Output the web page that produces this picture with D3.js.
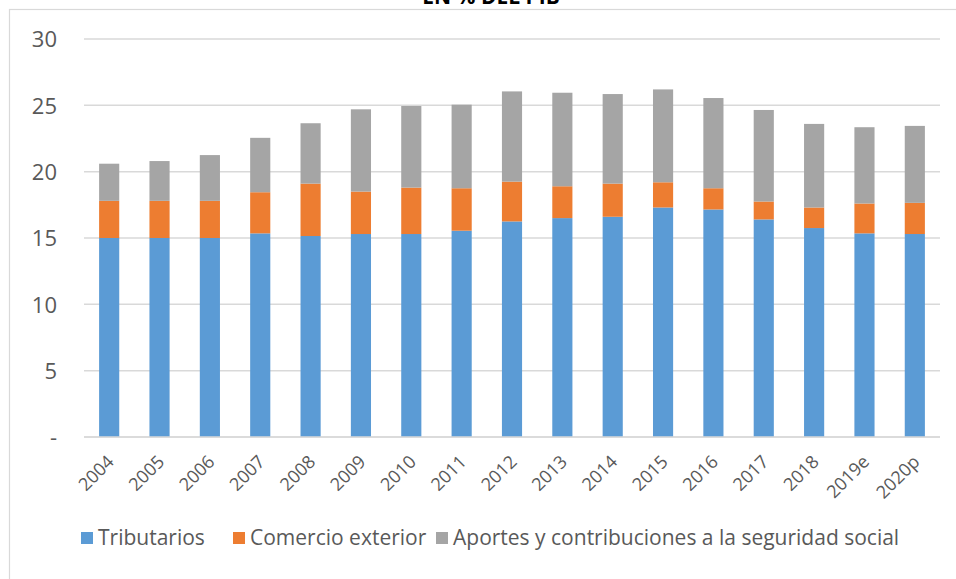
<!DOCTYPE html>
<html>
<head>
<meta charset="utf-8">
<script src="https://cdn.jsdelivr.net/npm/d3@7"></script>
<style>
  body { margin: 0; background: #fff; }
  svg { display: block; font-family: "Open Sans", sans-serif; }
</style>
</head>
<body>
<div id="chart"></div>
<script>
// data (% of GDP)
var years = ["2004", "2005", "2006", "2007", "2008", "2009", "2010", "2011", "2012",
             "2013", "2014", "2015", "2016", "2017", "2018", "2019e", "2020p"];
var tributarios = [15.0, 15.0, 15.0, 15.35, 15.15, 15.3, 15.3, 15.55, 16.25,
                   16.5, 16.6, 17.3, 17.15, 16.4, 15.75, 15.35, 15.3];
var comercio = [2.8, 2.8, 2.8, 3.1, 3.95, 3.2, 3.5, 3.2, 3.0,
                2.4, 2.5, 1.9, 1.6, 1.35, 1.55, 2.25, 2.35];
var aportes = [2.8, 3.0, 3.45, 4.1, 4.55, 6.2, 6.15, 6.3, 6.8,
               7.05, 6.75, 7.0, 6.8, 6.9, 6.3, 5.75, 5.8];
var seriesNames = ["Tributarios", "Comercio exterior", "Aportes y contribuciones a la seguridad social"];
var seriesColors = ["#5b9bd5", "#ed7d31", "#a5a5a5"];
var yTicks = [0, 5, 10, 15, 20, 25, 30];

var width = 956, height = 579;
var margin = {top: 39, right: 16, bottom: 142, left: 84};

var svg = d3.select("#chart").append("svg")
    .attr("width", width)
    .attr("height", height);

// chart frame (runs off the right and bottom edges)
svg.append("rect")
    .attr("x", 9.5)
    .attr("y", 9.5)
    .attr("width", 1000)
    .attr("height", 1000)
    .style("fill", "none")
    .style("stroke", "#d9d9d9")
    .style("stroke-width", 1.2);

svg.append("text")
    .attr("x", 491)
    .attr("y", 4)
    .attr("text-anchor", "middle")
    .style("font-weight", "bold")
    .style("font-size", "21px")
    .text("EN % DEL PIB");

var x = d3.scaleBand()
    .domain(years)
    .range([margin.left, width - margin.right])
    .paddingInner(0.6)
    .paddingOuter(0.3);

var y = d3.scaleLinear()
    .domain([0, 30])
    .range([height - margin.bottom, margin.top]);

// gridlines
svg.append("g")
    .selectAll("line")
    .data(yTicks)
    .enter()
    .append("line")
        .attr("x1", margin.left)
        .attr("x2", width - margin.right)
        .attr("y1", function(d) { return y(d); })
        .attr("y2", function(d) { return y(d); })
        .style("stroke", "#d9d9d9")
        .style("stroke-width", 1.5);

// y labels
var yAxis = d3.axisLeft(y)
    .tickValues(yTicks)
    .tickSize(0)
    .tickPadding(0)
    .tickFormat(function(d) { return d === 0 ? "-" : d; });

var yg = svg.append("g")
    .attr("transform", "translate(57, 0)")
    .call(yAxis);
yg.select(".domain").remove();
yg.selectAll("text")
    .style("font-family", "Open Sans")
    .style("font-size", "22px")
    .style("fill", "#595959")
    .attr("dy", "0.36em");

// stacked bars
var rows = years.map(function(yr, i) {
    return {year: yr, t: tributarios[i], c: comercio[i], a: aportes[i]};
});
var stack = d3.stack().keys(["t", "c", "a"]);
var layers = stack(rows);

svg.append("g")
    .selectAll("g")
    .data(layers)
    .enter()
    .append("g")
        .style("fill", function(d, i) { return seriesColors[i]; })
    .selectAll("rect")
    .data(function(d) { return d; })
    .enter()
    .append("rect")
        .attr("x", function(d) { return x(d.data.year); })
        .attr("width", x.bandwidth())
        .attr("y", function(d) { return y(d[1]); })
        .attr("height", function(d) { return y(d[0]) - y(d[1]); });

// axis line on top of bars
svg.append("line")
    .attr("x1", margin.left)
    .attr("x2", width - margin.right)
    .attr("y1", y(0))
    .attr("y2", y(0))
    .style("stroke", "#d9d9d9")
    .style("stroke-width", 1.5);

// x labels
svg.append("g")
    .selectAll("text")
    .data(years)
    .enter()
    .append("text")
        .attr("transform", function(d) {
            return "translate(" + (x(d) + x.bandwidth() / 2 - 3) + ", " + (y(0) + 17) + ") rotate(-45)";
        })
        .attr("text-anchor", "end")
        .attr("dy", "0.7em")
        .style("font-size", "18px")
        .style("fill", "#595959")
        .text(function(d) { return d; });

// legend
var legendX = [81, 233, 436];
var legend = svg.append("g")
    .selectAll("g")
    .data(seriesNames)
    .enter()
    .append("g")
        .attr("transform", function(d, i) { return "translate(" + legendX[i] + ", 532)"; });

legend.append("rect")
    .attr("width", 12)
    .attr("height", 12)
    .style("fill", function(d, i) { return seriesColors[i]; });

legend.append("text")
    .attr("x", 17)
    .attr("y", 13)
    .style("font-size", "21px")
    .style("fill", "#595959")
    .text(function(d) { return d; });
</script>
</body>
</html>
